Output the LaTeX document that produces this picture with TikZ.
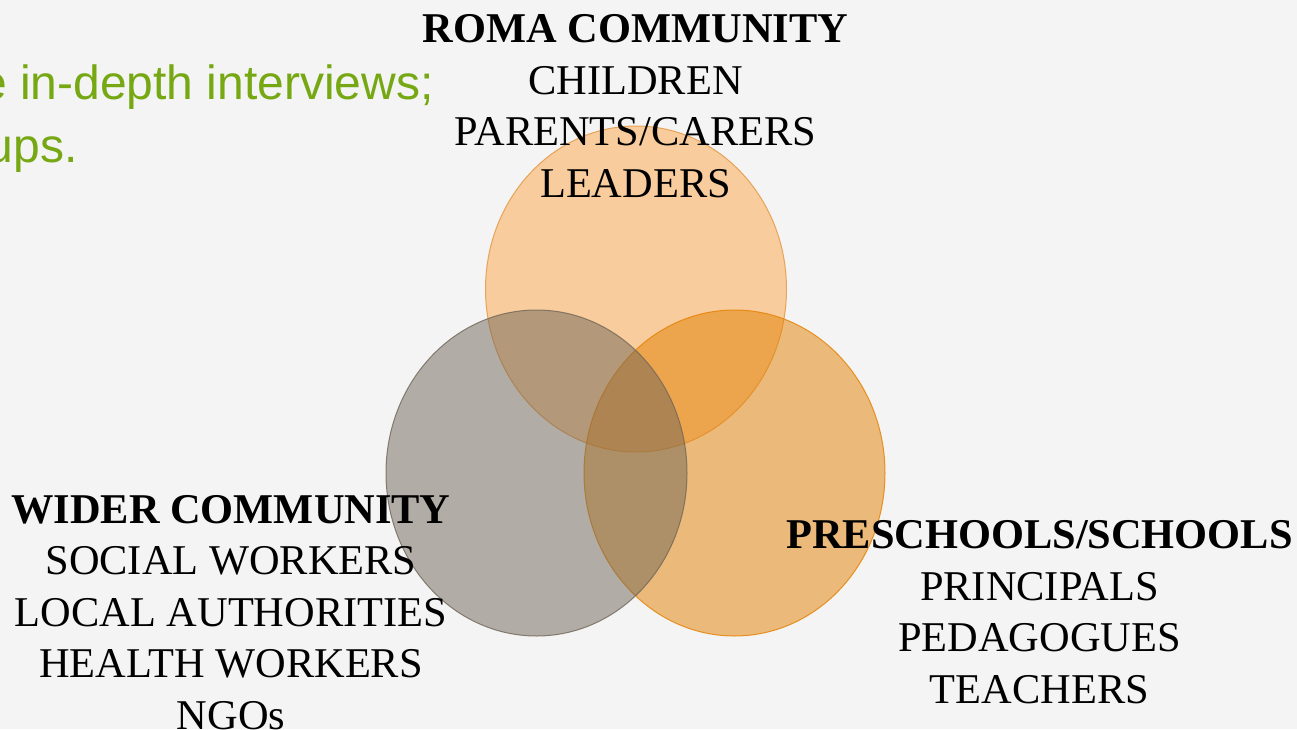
\documentclass[tikz,border=0pt]{standalone}
\usepackage{fontspec}
\setmainfont{Liberation Serif}
\newfontfamily\greenfont{Liberation Sans}
\usetikzlibrary{shapes.geometric}
\definecolor{slidebg}{HTML}{F4F4F4}
\definecolor{romaorange}{HTML}{FCA646}
\definecolor{schoolorange}{HTML}{E48000}
\definecolor{widergray}{HTML}{706658}
\definecolor{notegreen}{HTML}{76A814}

\tikzset{
  group/.style={ellipse, minimum width=150.5pt, minimum height=163pt, inner sep=0, fill opacity=0.5, draw opacity=0.8, line width=0.5pt},
  label/.style={align=center, inner sep=0, anchor=base, font=\fontsize{21.2}{25.75}\selectfont},
  note/.style={inner sep=0, anchor=base east, text=notegreen, font=\greenfont\fontsize{24}{31.5}\selectfont}
}

\begin{document}
\begin{tikzpicture}[x=0.5pt, y=-0.5pt]
\clip (0,0) rectangle (1297,729);
\fill[slidebg] (0,0) rectangle (1297,729);

% the three circles
\node[group, fill=romaorange, draw=romaorange!90!black] (roma) at (636,289) {};
\node[group, fill=schoolorange, draw=schoolorange] (schools) at (734.5,473) {};
\node[group, fill=widergray, draw=widergray] (wider) at (536.5,473) {};

% texts (anchored at the baseline of the last line)
\node[note] (note1) at (434,99) {e in-depth interviews;};
\node[note] (note2) at (78,162) {ups.};

\node[label] (romatext) at (635.5,197) {\textbf{ROMA COMMUNITY}\\CHILDREN\\PARENTS/CARERS\\LEADERS};
\node[label] (widertext) at (231,729) {\textbf{WIDER COMMUNITY}\\SOCIAL WORKERS\\LOCAL AUTHORITIES\\HEALTH WORKERS\\NGOs};
\node[label] (schooltext) at (1039.5,703) {\textbf{PRESCHOOLS/SCHOOLS}\\PRINCIPALS\\PEDAGOGUES\\TEACHERS};
\end{tikzpicture}
\end{document}
